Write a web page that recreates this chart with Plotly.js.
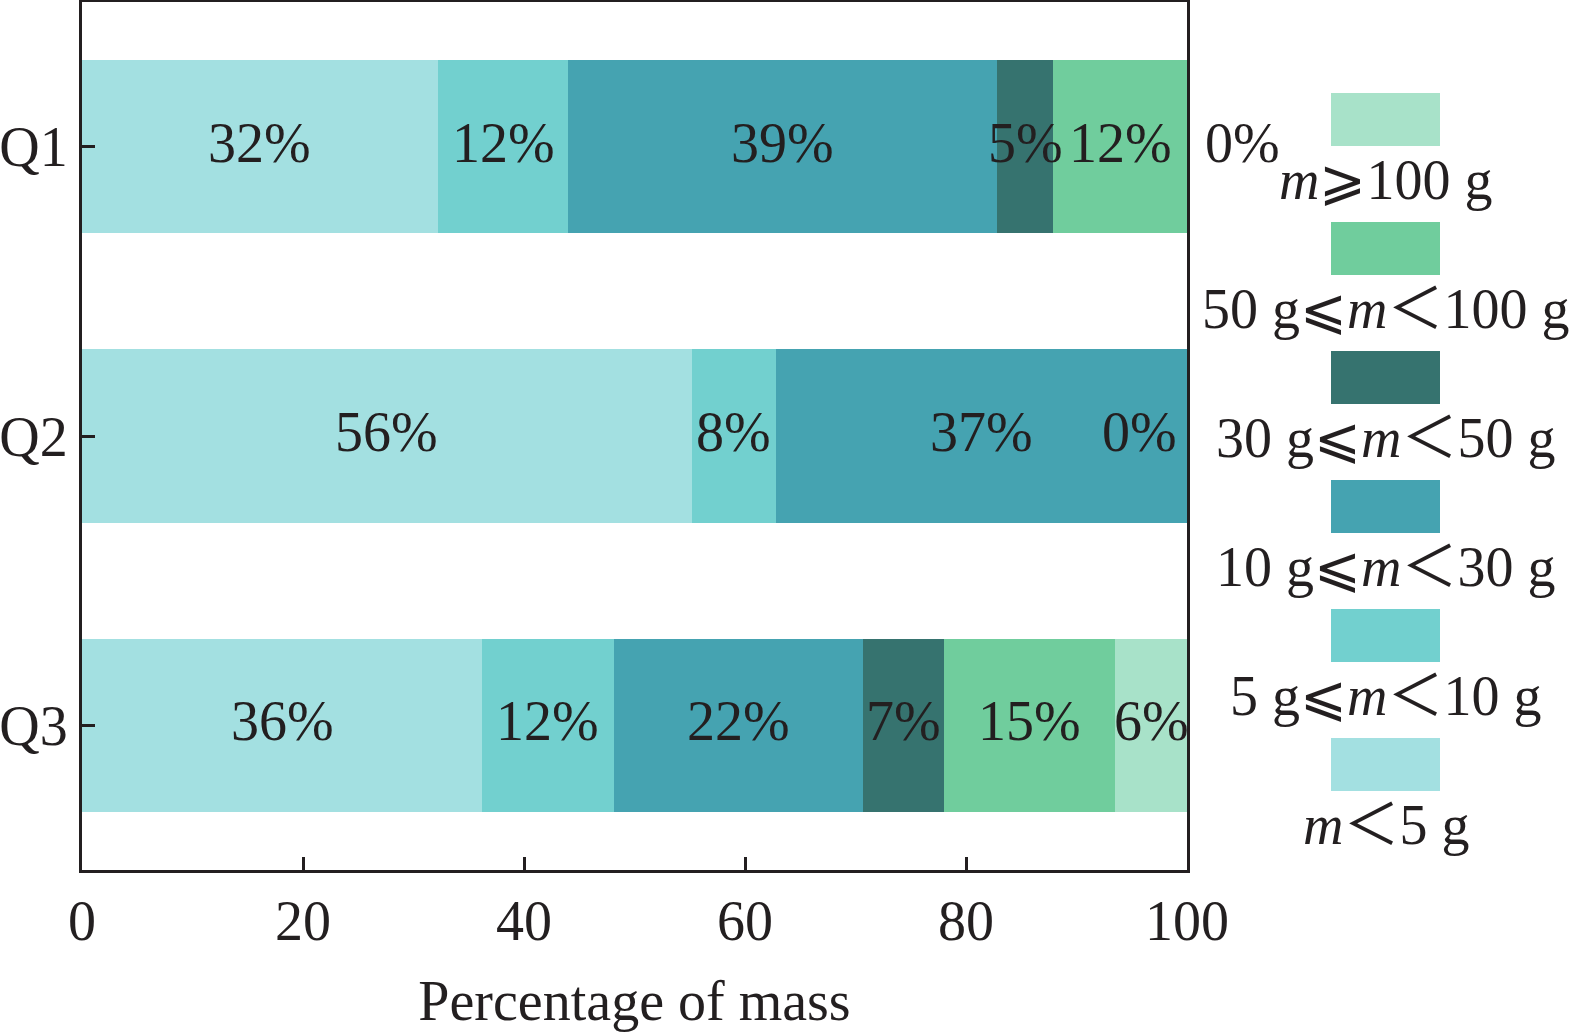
<!DOCTYPE html>
<html><head><meta charset="utf-8">
<script src="https://cdn.plot.ly/plotly-3.0.1.min.js"></script>
<style>html,body{margin:0;padding:0;background:#fff;}#chart{width:1575px;height:1036px;}</style>
</head><body><div id="chart"></div>
<script>
// ---- data ----
const categories = ['Q1', 'Q2', 'Q3'];
const seriesNames = [
  '<i>m</i>＜5 g',
  '5 g⩽<i>m</i>＜10 g',
  '10 g⩽<i>m</i>＜30 g',
  '30 g⩽<i>m</i>＜50 g',
  '50 g⩽<i>m</i>＜100 g',
  '<i>m</i>⩾100 g'
];
const seriesColors = ['#a3e0e1', '#72d0cf', '#45a3b1', '#36736f', '#70cd9d', '#a8e2c9'];
const valLt5     = [32.2, 55.2, 36.2];
const val5to10   = [11.8, 7.6, 11.9];
const val10to30  = [38.8, 37.2, 22.6];
const val30to50  = [5.1, 0, 7.3];
const val50to100 = [12.1, 0, 15.5];
const valGe100   = [0, 0, 6.5];
const lblLt5     = ['32%', '56%', '36%'];
const lbl5to10   = ['12%', '8%', '12%'];
const lbl10to30  = ['39%', '37%', '22%'];
const lbl30to50  = ['5%', '', '7%'];
const lbl50to100 = ['12%', '', '15%'];
const lblGe100   = ['0%', '0%', '6%'];
const xTickVals = [0, 20, 40, 60, 80, 100];
const xAxisTitle = 'Percentage of mass';

const seriesValues = [valLt5, val5to10, val10to30, val30to50, val50to100, valGe100];
const seriesLabels = [lblLt5, lbl5to10, lbl10to30, lbl30to50, lbl50to100, lblGe100];

// ---- style ----
const FONT = "'Liberation Serif', 'Times New Roman', 'DejaVu Serif', 'Noto Sans CJK SC', serif";
const INK = '#231f20';
const FS = 56;
const W = 1575, H = 1036;
const M = {l: 82, r: 388, t: 2, b: 166};
const PW = W - M.l - M.r, PH = H - M.t - M.b;
const px2x = p => (p - M.l) / PW;
const py2y = p => (H - M.b - p) / PH;

const traces = seriesValues.map((vals, i) => ({
  type: 'bar', orientation: 'h', name: seriesNames[i],
  y: categories, x: vals, width: 0.6,
  marker: {color: seriesColors[i], line: {width: 0}},
  hoverinfo: 'skip', showlegend: false
}));

const annotations = [];
// segment labels
categories.forEach((cat, ci) => {
  let cum = 0;
  seriesValues.forEach((vals, si) => {
    const v = vals[ci], lab = seriesLabels[si][ci];
    if (lab) {
      const a = {x: cum + v / 2, y: cat, xref: 'x', yref: 'y', text: lab, showarrow: false,
        font: {family: FONT, size: FS, color: INK}, xanchor: 'center', yanchor: 'middle', yshift: 4};
      if (v === 0) {
        // zero-width segment: label next to the bar end (outside for Q1, inside for Q2)
        const outside = (ci === 0);
        a.x = cum;
        a.xanchor = outside ? 'left' : 'right';
        a.xshift = outside ? 16 : -8;
      }
      annotations.push(a);
    }
    cum += v;
  });
});

// custom legend (swatch above text)
const shapes = [];
const boxL = 1331, boxR = 1440, boxTop0 = 93, boxH = 53, step = 129;
for (let k = 0; k < seriesNames.length; k++) {
  const si = seriesNames.length - 1 - k;
  const top = boxTop0 + k * step;
  shapes.push({type: 'rect', xref: 'paper', yref: 'paper',
    x0: px2x(boxL), x1: px2x(boxR), y0: py2y(top + boxH), y1: py2y(top),
    fillcolor: seriesColors[si], line: {width: 0}});
  annotations.push({xref: 'paper', yref: 'paper', x: px2x((boxL + boxR) / 2), y: py2y(top + boxH + 34),
    text: seriesNames[si], showarrow: false, xanchor: 'center', yanchor: 'middle',
    font: {family: FONT, size: FS, color: INK}});
}

const layout = {
  width: W, height: H, margin: M,
  paper_bgcolor: '#fff', plot_bgcolor: '#fff',
  barmode: 'stack', bargap: 0.4, showlegend: false,
  font: {family: FONT, size: FS, color: INK},
  xaxis: {range: [0, 100], tickvals: xTickVals, ticks: 'inside', ticklen: 13, tickwidth: 3,
    tickcolor: INK, showline: true, linewidth: 3, linecolor: INK, mirror: true,
    showgrid: false, zeroline: false, tickfont: {family: FONT, size: FS, color: INK},
    title: {text: xAxisTitle, font: {family: FONT, size: FS, color: INK}, standoff: 30}},
  yaxis: {type: 'category', range: [2.5, -0.5], ticks: 'inside', ticklen: 13, tickwidth: 3,
    tickcolor: INK, showline: true, linewidth: 3, linecolor: INK, mirror: true,
    showgrid: false, zeroline: false, tickfont: {family: FONT, size: FS, color: INK}},
  annotations: annotations, shapes: shapes
};

Plotly.newPlot('chart', traces, layout, {displayModeBar: false, staticPlot: true});
</script></body></html>
